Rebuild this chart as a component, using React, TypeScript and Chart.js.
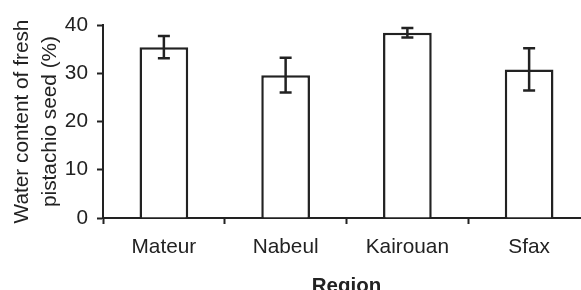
import React, { useEffect, useRef } from "react";
import { Chart, registerables } from "chart.js";

Chart.register(...registerables);

const categories = ["Mateur", "Nabeul", "Kairouan", "Sfax"];
const waterContent = [35.4, 29.6, 38.4, 30.8];
const errors = [2.3, 3.6, 1.0, 4.4];
const yTicks = [0, 10, 20, 30, 40];

const INK = "#222222";
const FONT = "'Liberation Sans', Arial, sans-serif";

const errorBarPlugin = {
  id: "errorBars",
  afterDatasetsDraw(chart: any) {
    const meta = chart.getDatasetMeta(0);
    const yScale = chart.scales.y;
    const ctx = chart.ctx;
    ctx.save();
    ctx.strokeStyle = INK;
    ctx.lineWidth = 2.5;
    meta.data.forEach((bar: any, i: number) => {
      const x = bar.x;
      const top = yScale.getPixelForValue(waterContent[i] + errors[i]);
      const bot = yScale.getPixelForValue(waterContent[i] - errors[i]);
      const half = 6;
      ctx.beginPath();
      ctx.moveTo(x, top);
      ctx.lineTo(x, bot);
      ctx.moveTo(x - half, top);
      ctx.lineTo(x + half, top);
      ctx.moveTo(x - half, bot);
      ctx.lineTo(x + half, bot);
      ctx.stroke();
    });
    ctx.restore();
  },
};

export default function App() {
  const ref = useRef<HTMLCanvasElement>(null);
  useEffect(() => {
    if (!ref.current) return;
    const chart = new Chart(ref.current, {
      type: "bar",
      data: {
        labels: categories,
        datasets: [
          {
            data: waterContent,
            backgroundColor: "#ffffff",
            borderColor: INK,
            borderWidth: 2.5,
            borderSkipped: "bottom",
            barPercentage: 0.4,
            categoryPercentage: 1,
          },
        ],
      },
      options: {
        responsive: false,
        animation: false,
        layout: { padding: { top: 25, right: 10, left: 0, bottom: 0 } },
        plugins: { legend: { display: false }, tooltip: { enabled: false } },
        scales: {
          x: {
            grid: {
              offset: true,
              drawOnChartArea: false,
              drawTicks: true,
              tickLength: 6,
              tickWidth: 2,
              tickColor: INK,
            },
            border: { display: true, color: INK, width: 2 },
            ticks: {
              color: INK,
              padding: 11,
              font: { family: FONT, size: 20.8 },
            },
            title: {
              display: true,
              text: "Region",
              color: INK,
              font: { family: FONT, size: 20.5, weight: "bold", lineHeight: 1.2 },
              padding: { top: 0, bottom: 1 },
            },
            afterFit(scale: any) {
              scale.height = 82;
            },
          },
          y: {
            min: 0,
            max: 40,
            afterBuildTicks(scale: any) {
              scale.ticks = yTicks.map((v) => ({ value: v }));
            },
            grid: {
              drawOnChartArea: false,
              drawTicks: true,
              tickLength: 6,
              tickWidth: 2,
              tickColor: INK,
            },
            border: { display: true, color: INK, width: 2 },
            ticks: {
              color: INK,
              padding: 9,
              font: { family: FONT, size: 20.8 },
            },
            title: {
              display: true,
              text: ["Water content of fresh", "pistachio seed (%)"],
              color: INK,
              font: { family: FONT, size: 20.8, lineHeight: 1.35 },
              padding: { top: 8, bottom: 0 },
            },
            afterFit(scale: any) {
              scale.width = 103;
            },
          },
        },
      },
      plugins: [errorBarPlugin],
    });
    return () => chart.destroy();
  }, []);
  return (
    <div
      style={{
        position: "fixed",
        left: 0,
        top: 0,
        width: 581,
        height: 290,
        overflow: "hidden",
        background: "#fff",
      }}
    >
      <canvas ref={ref} width={600} height={300} style={{ width: 600, height: 300, display: "block" }} />
    </div>
  );
}
